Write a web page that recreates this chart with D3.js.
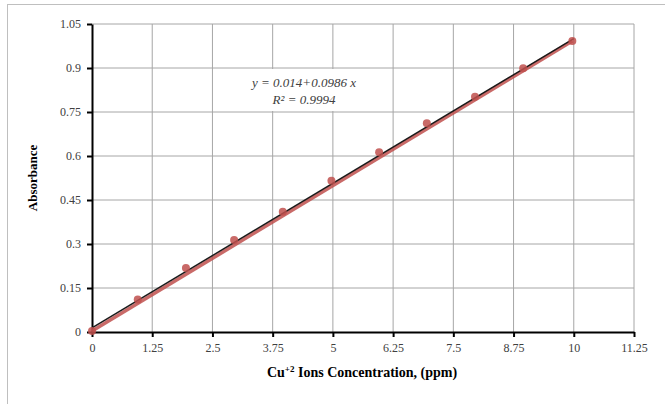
<!DOCTYPE html>
<html>
<head>
<meta charset="utf-8">
<script src="https://cdn.jsdelivr.net/npm/d3@7"></script>
<style>
  body { margin: 0; background: #fff; }
  text { font-family: "Liberation Serif", "Times New Roman", serif; }
</style>
</head>
<body>
<div id="chart"></div>
<script>
// Measured data (concentration in ppm, absorbance)
const concentration = [0, 0.95, 1.95, 2.95, 3.96, 4.97, 5.96, 6.95, 7.95, 8.95, 9.97];
const absorbance = [0.003, 0.111, 0.218, 0.314, 0.410, 0.516, 0.613, 0.712, 0.802, 0.899, 0.992];
const xTicks = [0, 1.25, 2.5, 3.75, 5, 6.25, 7.5, 8.75, 10, 11.25];
const yTicks = [0, 0.15, 0.3, 0.45, 0.6, 0.75, 0.9, 1.05];
// Trendline y = a + b x
const intercept = 0.014;
const slope = 0.0986;
const trendRange = [0, 10];

const points = concentration.map((c, i) => ({ x: c, y: absorbance[i] }));

const W = 665, H = 404;
const margin = { top: 24, right: 31, bottom: 72, left: 92 };
const width = W - margin.left - margin.right;
const height = H - margin.top - margin.bottom;

const svg = d3.select("#chart").append("svg")
  .attr("width", W)
  .attr("height", H);

// chart border (only left/top visible in the crop)
svg.append("rect")
  .attr("x", 7.5).attr("y", 4.5)
  .attr("width", W + 10).attr("height", H + 10)
  .attr("fill", "none")
  .attr("stroke", "#bfbfbf");

const g = svg.append("g")
  .attr("transform", `translate(${margin.left},${margin.top})`);

const x = d3.scaleLinear().domain([0, 11.25]).range([0, width]);
const y = d3.scaleLinear().domain([0, 1.05]).range([height, 0]);

// Gridlines
g.append("g").selectAll("line")
  .data(xTicks.slice(1))
  .enter().append("line")
  .attr("x1", d => x(d)).attr("x2", d => x(d))
  .attr("y1", 0).attr("y2", height)
  .attr("stroke", "#a6a6a6").attr("stroke-width", 1);

g.append("g").selectAll("line")
  .data(yTicks.slice(1))
  .enter().append("line")
  .attr("x1", 0).attr("x2", width)
  .attr("y1", d => y(d)).attr("y2", d => y(d))
  .attr("stroke", "#a6a6a6").attr("stroke-width", 1);

// Axes
const xAxis = g.append("g")
  .attr("transform", `translate(0,${height})`)
  .call(d3.axisBottom(x).tickValues(xTicks).tickFormat(d => d).tickSize(5).tickSizeOuter(0));
const yAxis = g.append("g")
  .call(d3.axisLeft(y).tickValues(yTicks).tickFormat(d => d).tickSize(5).tickSizeOuter(0));

[xAxis, yAxis].forEach(a => {
  a.attr("font-family", "'Liberation Serif', serif").attr("font-size", 12);
  a.select(".domain").attr("stroke", "#000").attr("stroke-width", 2);
  a.selectAll(".tick line").attr("stroke", "#000").attr("stroke-width", 2);
  a.selectAll(".tick text").attr("fill", "#404040");
});
xAxis.selectAll(".tick text").attr("y", 11);
yAxis.selectAll(".tick text").attr("x", -11);

// Red series line (first to last point)
const first = points[0], last = points[points.length - 1];
g.append("line")
  .attr("x1", x(first.x)).attr("y1", y(first.y))
  .attr("x2", x(last.x)).attr("y2", y(last.y))
  .attr("stroke", "#c0504d")
  .attr("stroke-opacity", 0.85)
  .attr("stroke-width", 3.5);

// Linear trendline
g.append("line")
  .attr("x1", x(trendRange[0])).attr("y1", y(intercept + slope * trendRange[0]))
  .attr("x2", x(trendRange[1])).attr("y2", y(intercept + slope * trendRange[1]))
  .attr("stroke", "#1a1a1a")
  .attr("stroke-width", 1.5);

// Data markers
g.selectAll(".dot")
  .data(points)
  .enter().append("circle")
  .attr("class", "dot")
  .attr("cx", d => x(d.x))
  .attr("cy", d => y(d.y))
  .attr("r", 4)
  .attr("fill", "#c0504d")
  .attr("fill-opacity", 0.85);

// Equation label with white box
g.append("rect")
  .attr("x", 122).attr("y", 45)
  .attr("width", 176).attr("height", 42)
  .attr("fill", "#fff");
const eq = g.append("text")
  .attr("x", 212)
  .attr("y", 63)
  .attr("text-anchor", "middle")
  .attr("fill", "#404040")
  .style("font-style", "italic")
  .style("font-size", "13px");
eq.append("tspan").text(`y = ${intercept}+${slope} x`);
eq.append("tspan").attr("x", 212).attr("dy", 17).text("R² = 0.9994");

// X axis label
const xl = g.append("text")
  .attr("x", 270)
  .attr("y", height + 45)
  .attr("text-anchor", "middle")
  .attr("fill", "#000")
  .style("font-weight", "bold")
  .style("font-size", "14px");
xl.append("tspan").text("Cu");
xl.append("tspan").attr("dy", -5).style("font-size", "9px").text("+2");
xl.append("tspan").attr("dy", 5).text(" Ions Concentration, (ppm)");

// Y axis label
g.append("text")
  .attr("transform", "rotate(-90)")
  .attr("x", -height / 2)
  .attr("y", -55)
  .attr("text-anchor", "middle")
  .attr("fill", "#000")
  .style("font-weight", "bold")
  .style("font-size", "13px")
  .text("Absorbance");
</script>
</body>
</html>
